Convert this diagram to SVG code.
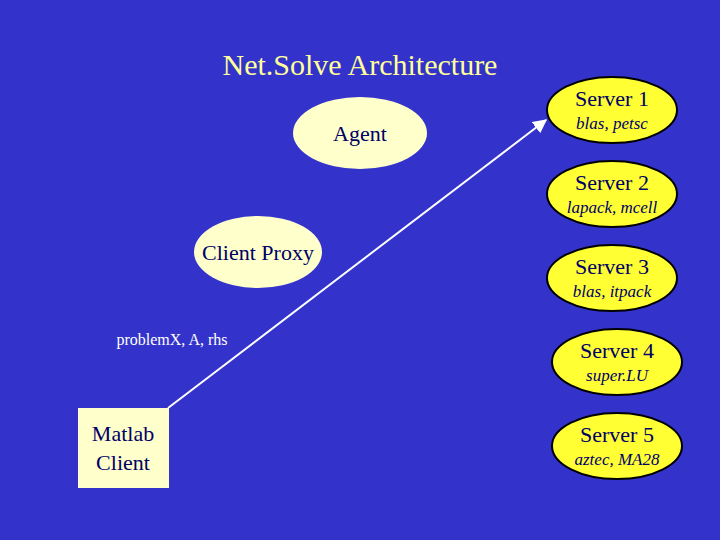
<svg xmlns="http://www.w3.org/2000/svg" width="720" height="540" viewBox="0 0 720 540">
<defs>
<style>
text{font-family:"Liberation Serif",serif;fill:#000066;text-anchor:middle}
.srv{fill:#ffff33;stroke:#000;stroke-width:2}
.lt{fill:#ffffcc}
.it{font-style:italic;font-size:17px}
.nm{font-size:22px}
</style>
<marker id="ah" viewBox="0 0 10 10" refX="9" refY="5" markerWidth="7" markerHeight="7" orient="auto"><path d="M0,0L10,5L0,10z" fill="#fff"/></marker>
</defs>
<rect width="720" height="540" fill="#3333cc"/>
<text x="360" y="75" style="fill:#ffff99;font-size:30px">Net.Solve Architecture</text>
<g id="connectors">
<line x1="168" y1="408" x2="546" y2="120" stroke="#fff" stroke-width="2" marker-end="url(#ah)"/>
<text x="172" y="345" style="fill:#fff;font-size:16px">problemX, A, rhs</text>
</g>
<g id="agent"><ellipse cx="360" cy="133" rx="67" ry="36" class="lt"/><text x="360" y="141" class="nm">Agent</text></g>
<g id="proxy"><ellipse cx="258" cy="252" rx="64" ry="36" class="lt"/><text x="258" y="260" class="nm">Client Proxy</text></g>
<g id="matlab"><rect x="78" y="408" width="91" height="80" class="lt"/><text x="123" y="441" class="nm">Matlab</text><text x="123" y="470" class="nm">Client</text></g>
<g id="server1"><ellipse cx="612" cy="110" rx="65" ry="33" class="srv"/><text x="612" y="106" class="nm">Server 1</text><text x="612" y="129" class="it">blas, petsc</text></g>
<g id="server2"><ellipse cx="612" cy="194" rx="65" ry="33" class="srv"/><text x="612" y="190" class="nm">Server 2</text><text x="612" y="213" class="it">lapack, mcell</text></g>
<g id="server3"><ellipse cx="612" cy="278" rx="65" ry="33" class="srv"/><text x="612" y="274" class="nm">Server 3</text><text x="612" y="297" class="it">blas, itpack</text></g>
<g id="server4"><ellipse cx="617" cy="362" rx="65" ry="33" class="srv"/><text x="617" y="358" class="nm">Server 4</text><text x="617" y="381" class="it">super.LU</text></g>
<g id="server5"><ellipse cx="617" cy="446" rx="65" ry="33" class="srv"/><text x="617" y="442" class="nm">Server 5</text><text x="617" y="465" class="it">aztec, MA28</text></g>
</svg>
